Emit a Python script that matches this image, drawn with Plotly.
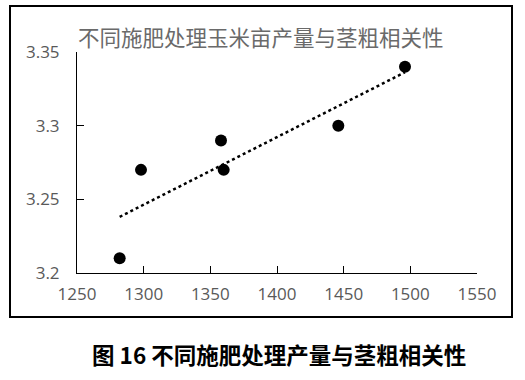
import numpy as np
import plotly.graph_objects as go

# Data
yield_x = [1282, 1298, 1358, 1360, 1446, 1496]
stem_y = [3.21, 3.27, 3.29, 3.27, 3.30, 3.34]
x_ticks = [1250, 1300, 1350, 1400, 1450, 1500, 1550]
y_ticks = [3.2, 3.25, 3.3, 3.35]
y_tick_text = ["3.2", "3.25", "3.3", "3.35"]
chart_title = "不同施肥处理玉米亩产量与茎粗相关性"
caption = "图 16 不同施肥处理产量与茎粗相关性"

# Linear trendline (least squares) over data range
slope, intercept = np.polyfit(yield_x, stem_y, 1)
tx = [min(yield_x), max(yield_x)]
ty = [slope * v + intercept for v in tx]

fig = go.Figure()
fig.add_trace(go.Scatter(x=tx, y=ty, mode="lines",
                         line=dict(color="black", width=2.5, dash="dot"),
                         showlegend=False, hoverinfo="skip"))
fig.add_trace(go.Scatter(x=yield_x, y=stem_y, mode="markers",
                         marker=dict(color="black", size=12),
                         showlegend=False))

gray = "#595959"
L, R, T, B = 77, 477, 52, 273
PW, PH = R - L, B - T
fig.update_layout(
    width=525, height=380,
    margin=dict(l=L, r=525 - R, t=T, b=380 - B),
    paper_bgcolor="white", plot_bgcolor="white",
    font=dict(family="'Open Sans', 'Noto Sans CJK SC'", color=gray, size=16),
    xaxis=dict(range=[1250, 1550], tickvals=x_ticks, ticks="inside", ticklen=7,
               tickcolor="black", showline=True, linecolor="black", linewidth=1,
               showgrid=False, zeroline=False, ticklabelstandoff=6, automargin=False,
               tickfont=dict(family="Open Sans", size=17, color=gray)),
    yaxis=dict(range=[3.2, 3.35], tickvals=y_ticks, ticktext=y_tick_text,
               ticks="inside", ticklen=7, tickcolor="black", showline=True,
               linecolor="black", linewidth=1, showgrid=False, zeroline=False,
               ticklabelstandoff=13, automargin=False,
               tickfont=dict(family="Open Sans", size=17, color=gray)),
    shapes=[dict(type="rect", xref="paper", yref="paper",
                 x0=(10 - L) / PW, x1=1 + (512 - R) / PW,
                 y0=-(317 - B) / PH, y1=1 + (T - 6) / PH,
                 line=dict(color="black", width=2), fillcolor="rgba(0,0,0,0)",
                 layer="below")],
    annotations=[
        dict(text=chart_title, xref="paper", yref="paper", x=(76 - L) / PW,
             y=1 + (T - 36) / PH,
             xanchor="left", yanchor="middle", showarrow=False,
             font=dict(family="Noto Sans CJK SC", size=21.5, color="#6a6a6a")),
        dict(text="<b>" + caption + "</b>", xref="paper", yref="paper",
             x=(279 - L) / PW, y=-(354 - B) / PH, xanchor="center", yanchor="middle",
             showarrow=False,
             font=dict(family="Noto Sans CJK SC", size=22.5, color="black")),
    ],
)
fig.write_html("out.html", post_script="document.body.style.margin='0';",
               config={"displayModeBar": False})
